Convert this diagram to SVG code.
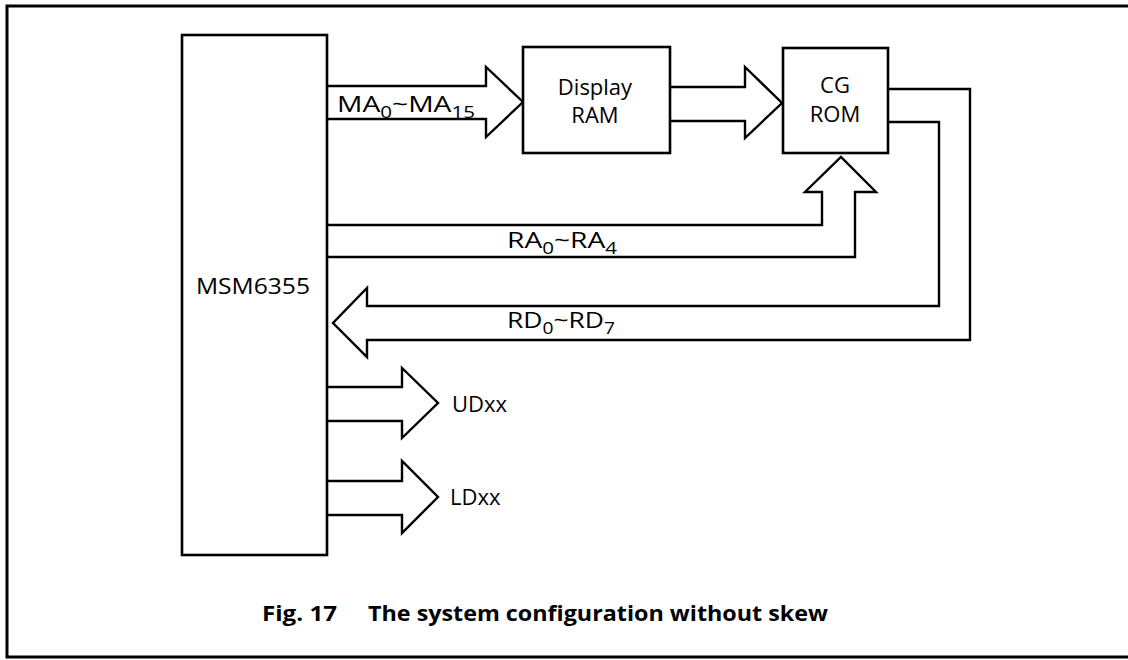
<svg xmlns="http://www.w3.org/2000/svg" width="1128" height="660" viewBox="0 0 1128 660">
<style>
.box{fill:#fff;stroke:#000;stroke-width:2.6}
.bus{fill:#fff;stroke:#000;stroke-width:2.4;stroke-linejoin:miter}
.frame{fill:none;stroke:#000;stroke-width:3}
text{font-family:"Open Sans","Liberation Sans",sans-serif;font-size:22px;font-weight:500;fill:#000}
.sub{font-size:16px}
.cap{font-weight:bold}
</style>
<rect width="1128" height="660" fill="#fff"/>
<path class="frame" d="M1130,6 H7 V657 H1130"/>
<g id="connectors">
<path class="bus" d="M327,86 H486 V67 L523,102 L486,137 V119 H327"/>
<path class="bus" d="M670,87 H745 V67 L782,103 L745,138 V121 H670"/>
<path class="bus" d="M327,225 H822 V192 H805 L841,157 L876,192 H855 V257 H327"/>
<path class="bus" d="M888,89 H970 V340 H367 V357 L333,323 L367,288 V306 H939 V122 H888"/>
<path class="bus" d="M327,387 H402 V368 L438,403 L402,438 V421 H327"/>
<path class="bus" d="M327,481 H402 V461 L438,497 L402,533 V515 H327"/>
<text x="337" y="112" textLength="138" lengthAdjust="spacingAndGlyphs">MA<tspan class="sub" dy="6">0</tspan><tspan dy="-6">~MA</tspan><tspan class="sub" dy="6">15</tspan></text>
<text x="507" y="248" textLength="110" lengthAdjust="spacingAndGlyphs">RA<tspan class="sub" dy="6">0</tspan><tspan dy="-6">~RA</tspan><tspan class="sub" dy="6">4</tspan></text>
<text x="507" y="328" textLength="108" lengthAdjust="spacingAndGlyphs">RD<tspan class="sub" dy="6">0</tspan><tspan dy="-6">~RD</tspan><tspan class="sub" dy="6">7</tspan></text>
<text x="452" y="412">UDxx</text>
<text x="450" y="505">LDxx</text>
</g>
<g id="msm6355">
<rect class="box" x="182" y="35" width="145" height="520"/>
<text x="196" y="294" textLength="114" lengthAdjust="spacingAndGlyphs">MSM6355</text>
</g>
<g id="display-ram">
<rect class="box" x="523" y="47" width="147" height="106"/>
<text x="595" y="95" text-anchor="middle">Display</text>
<text x="595" y="123" text-anchor="middle">RAM</text>
</g>
<g id="cg-rom">
<rect class="box" x="783" y="48" width="105" height="105"/>
<text x="835" y="93" text-anchor="middle">CG</text>
<text x="835" y="122" text-anchor="middle">ROM</text>
</g>
<g id="caption">
<text class="cap" x="262" y="621" textLength="75" lengthAdjust="spacingAndGlyphs">Fig. 17</text>
<text class="cap" x="368" y="621" textLength="460" lengthAdjust="spacingAndGlyphs">The system configuration without skew</text>
</g>
</svg>
